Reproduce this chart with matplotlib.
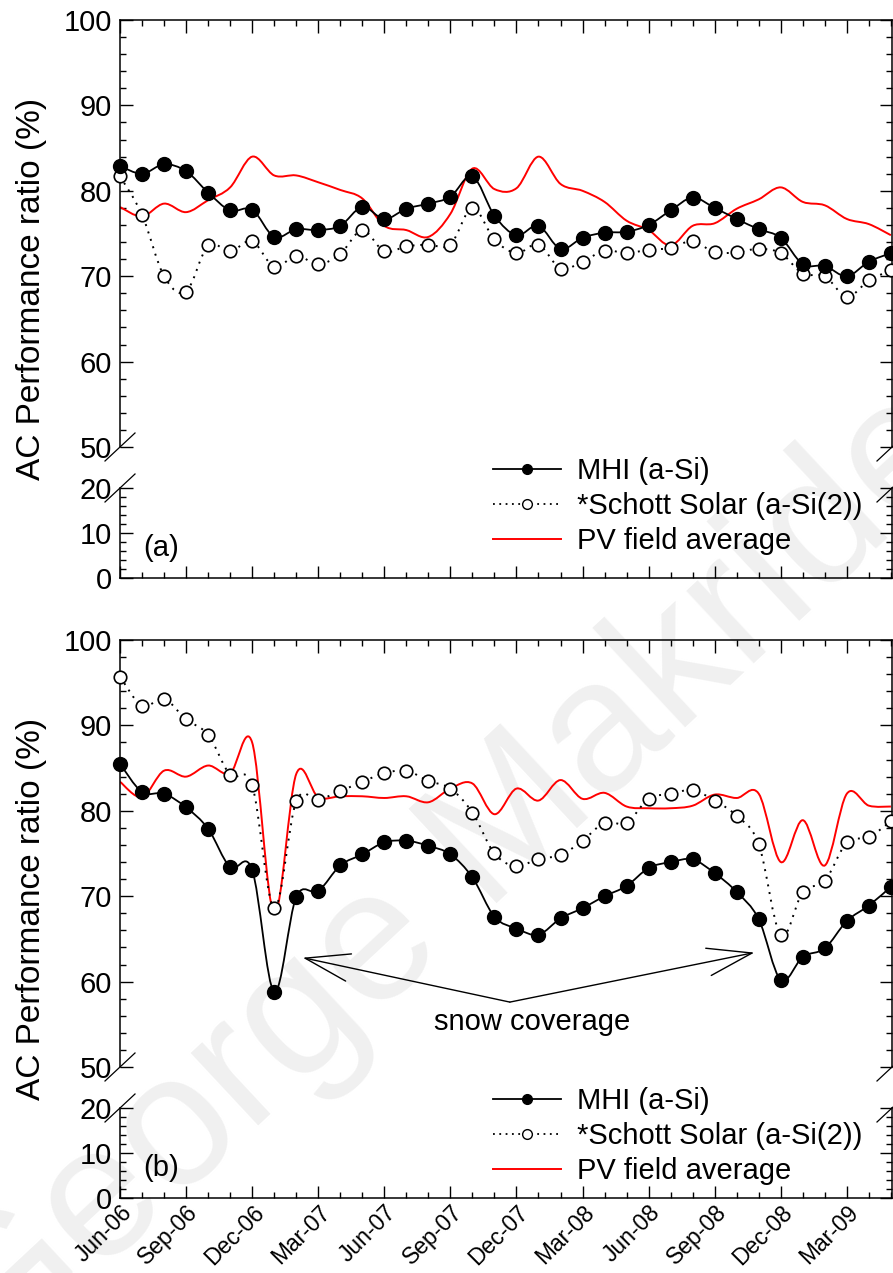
import numpy as np
import matplotlib
matplotlib.use('Agg')
import matplotlib.pyplot as plt
from matplotlib.path import Path
from matplotlib.patches import PathPatch
from matplotlib.lines import Line2D

plt.rcParams['font.family'] = ['Liberation Sans', 'DejaVu Sans']

# monthly values, Jun-06 .. May-09
months = np.arange(36)
tick_labels = ['Jun-06', 'Sep-06', 'Dec-06', 'Mar-07', 'Jun-07', 'Sep-07',
               'Dec-07', 'Mar-08', 'Jun-08', 'Sep-08', 'Dec-08', 'Mar-09']

# (a)
mhi_a = [82.9, 82.0, 83.1, 82.3, 79.8, 77.7, 77.8, 74.6, 75.5, 75.4, 75.9, 78.1,
         76.7, 77.9, 78.5, 79.3, 81.7, 77.1, 74.8, 75.9, 73.2, 74.5, 75.1, 75.2,
         76.0, 77.7, 79.2, 78.0, 76.7, 75.5, 74.5, 71.4, 71.2, 70.0, 71.7, 72.7]
schott_a = [81.7, 77.2, 70.0, 68.2, 73.6, 72.9, 74.1, 71.1, 72.4, 71.4, 72.6, 75.4,
            72.9, 73.5, 73.7, 73.7, 78.0, 74.3, 72.7, 73.7, 70.9, 71.7, 73.0, 72.7,
            73.1, 73.3, 74.1, 72.8, 72.8, 73.2, 72.7, 70.3, 70.0, 67.6, 69.5, 70.7]
pv_a = [78.1, 77.0, 78.5, 77.5, 78.9, 80.4, 84.0, 81.8, 81.8, 81.0, 80.1, 79.1,
        75.9, 75.4, 74.6, 77.3, 82.6, 80.2, 80.3, 84.0, 80.8, 80.0, 78.7, 76.5,
        75.4, 73.6, 75.9, 76.2, 77.9, 79.0, 80.4, 78.7, 78.3, 76.7, 76.1, 74.8]

# (b)
mhi_b = [85.5, 82.2, 82.0, 80.4, 77.9, 73.4, 73.1, 58.8, 69.9, 70.6, 73.6, 74.9,
         76.3, 76.5, 75.9, 74.9, 72.2, 67.6, 66.2, 65.5, 67.4, 68.6, 70.0, 71.2,
         73.3, 74.0, 74.3, 72.7, 70.5, 67.3, 60.2, 62.9, 63.9, 67.1, 68.9, 71.1]
schott_b = [95.7, 92.3, 93.1, 90.7, 88.9, 84.2, 83.0, 68.6, 81.1, 81.3, 82.3, 83.4,
            84.4, 84.7, 83.5, 82.6, 79.8, 75.0, 73.5, 74.4, 74.8, 76.5, 78.6, 78.6,
            81.4, 82.0, 82.4, 81.2, 79.4, 76.1, 65.4, 70.5, 71.8, 76.3, 76.9, 78.8]
pv_b = [83.4, 81.6, 84.7, 84.0, 85.3, 84.4, 88.0, 68.0, 84.3, 81.6, 81.7, 81.7,
        81.5, 81.7, 81.0, 82.6, 83.2, 79.6, 82.6, 81.2, 83.6, 81.4, 82.1, 80.5,
        80.3, 80.3, 80.6, 81.9, 81.5, 82.0, 74.0, 78.9, 73.6, 82.0, 80.6, 80.5]

legend_labels = ['MHI (a-Si)', '*Schott Solar (a-Si(2))', 'PV field average']

W, H = 893, 1273
fig = plt.figure(figsize=(W / 100, H / 100), dpi=100)


def px_rect(left, top, right, bottom):
    return [left / W, 1 - bottom / H, (right - left) / W, (bottom - top) / H]


def smooth(x, y):
    # smoothed line like a spreadsheet chart (bezier through every point)
    x = np.asarray(x, float)
    y = np.asarray(y, float)
    n = len(x)
    verts = [(x[0], y[0])]
    codes = [Path.MOVETO]
    for i in range(n - 1):
        a = i - 1 if i > 0 else i
        d = i + 2 if i + 2 < n else i + 1
        c1 = (x[i] + (x[i + 1] - x[a]) / 6, y[i] + (y[i + 1] - y[a]) / 6)
        c2 = (x[i + 1] - (x[d] - x[i]) / 6, y[i + 1] - (y[d] - y[i]) / 6)
        verts += [c1, c2, (x[i + 1], y[i + 1])]
        codes += [Path.CURVE4] * 3
    return Path(verts, codes)


def slash(xc, yc):
    fig.add_artist(Line2D([(xc - 15) / W, (xc + 15) / W],
                          [1 - (yc + 14) / H, 1 - (yc - 14) / H],
                          color='black', lw=0.9))


def draw_panel(top, mhi, schott, pv, tag, last, leg_top):
    ax_hi = fig.add_axes(px_rect(120, top, 892, top + 427))
    ax_lo = fig.add_axes(px_rect(120, top + 468, 892, top + 558))

    for ax in (ax_hi, ax_lo):
        ax.set_facecolor('none')
        ax.set_xlim(0, 35.05)
        ax.set_xticks(np.arange(0, 36, 3))
        ax.set_xticks(months, minor=True)
        ax.tick_params(which='both', direction='in', right=True, width=1,
                       labelsize=21, pad=6)
        ax.tick_params(which='major', length=9)
        ax.tick_params(which='minor', length=4.5)
        for s in ax.spines.values():
            s.set_linewidth(1.1)

    ax_hi.set_ylim(50, 100)
    ax_hi.set_yticks(np.arange(50, 101, 10))
    ax_hi.set_yticks(np.arange(50, 101, 2), minor=True)
    ax_hi.spines['bottom'].set_visible(False)
    ax_hi.tick_params(axis='x', which='both', bottom=False, top=True,
                      labelbottom=False)

    ax_lo.set_ylim(0, 20)
    ax_lo.set_yticks([0, 10, 20])
    ax_lo.set_yticks(np.arange(0, 21, 2), minor=True)
    ax_lo.spines['top'].set_visible(False)
    ax_lo.tick_params(axis='x', which='both', top=False, bottom=True)
    if last:
        ax_lo.set_xticklabels(tick_labels, rotation=45, ha='right', va='top',
                              rotation_mode='anchor', fontsize=16.5)
        ax_lo.tick_params(axis='x', pad=2)
    else:
        ax_lo.set_xticklabels([])

    ax_hi.add_patch(PathPatch(smooth(months, pv), fill=False, ec='#ff0000',
                              lw=1.4, zorder=2))
    ax_hi.add_patch(PathPatch(smooth(months, schott), fill=False, ec='black',
                              lw=1.4, ls=(0, (1, 3)), zorder=3))
    ax_hi.plot(months, schott, 'o', ms=9, mfc='white', mec='black', mew=1.2,
               zorder=4, clip_on=False)
    ax_hi.add_patch(PathPatch(smooth(months, mhi), fill=False, ec='black',
                              lw=1.3, zorder=5))
    ax_hi.plot(months, mhi, 'o', ms=10, color='black', zorder=6, clip_on=False)

    ax_lo.text(0.03, 0.33, tag, transform=ax_lo.transAxes, fontsize=21,
               va='center', ha='left')

    for yc in (top + 427, top + 468):
        slash(120, yc)
        slash(892, yc)

    fig.text(32 / W, 1 - (top + 269) / H, 'AC Performance ratio (%)',
             rotation=90, fontsize=24, ha='center', va='center')

    handles = [
        Line2D([], [], color='black', lw=1.3, marker='o', ms=7),
        Line2D([], [], color='black', lw=1.3, ls=(0, (1, 2.5)), marker='o',
               ms=7, mfc='white', mec='black'),
        Line2D([], [], color='#ff0000', lw=1.4),
    ]
    fig.legend(handles, legend_labels, loc='upper left',
               bbox_to_anchor=(493 / W, 1 - leg_top / H),
               bbox_transform=fig.transFigure, frameon=False, fontsize=21,
               borderpad=0, borderaxespad=0, handlelength=2.33,
               handletextpad=0.55, labelspacing=0.24)
    return ax_hi, ax_lo


draw_panel(20, mhi_a, schott_a, pv_a, '(a)', False, 457)
ax_b, _ = draw_panel(640, mhi_b, schott_b, pv_b, '(b)', True, 1087)

# snow coverage arrows
arrow = dict(arrowstyle='->,head_length=1.6,head_width=0.5', lw=1.0,
             color='black', shrinkA=0, shrinkB=0, mutation_scale=20)
ax_b.annotate('', xy=(8.3, 62.8), xytext=(17.7, 57.6), arrowprops=arrow)
ax_b.annotate('', xy=(28.8, 63.4), xytext=(17.7, 57.6), arrowprops=arrow)
ax_b.text(18.7, 55.3, 'snow coverage', fontsize=21, ha='center', va='center')

# watermark
fig.text(483 / W, 1 - 850 / H, 'George Makrides', rotation=43, fontsize=135,
         color='#f0f0f0', ha='center', va='center', zorder=-1)

fig.savefig('out.png', dpi=100, facecolor='white')
